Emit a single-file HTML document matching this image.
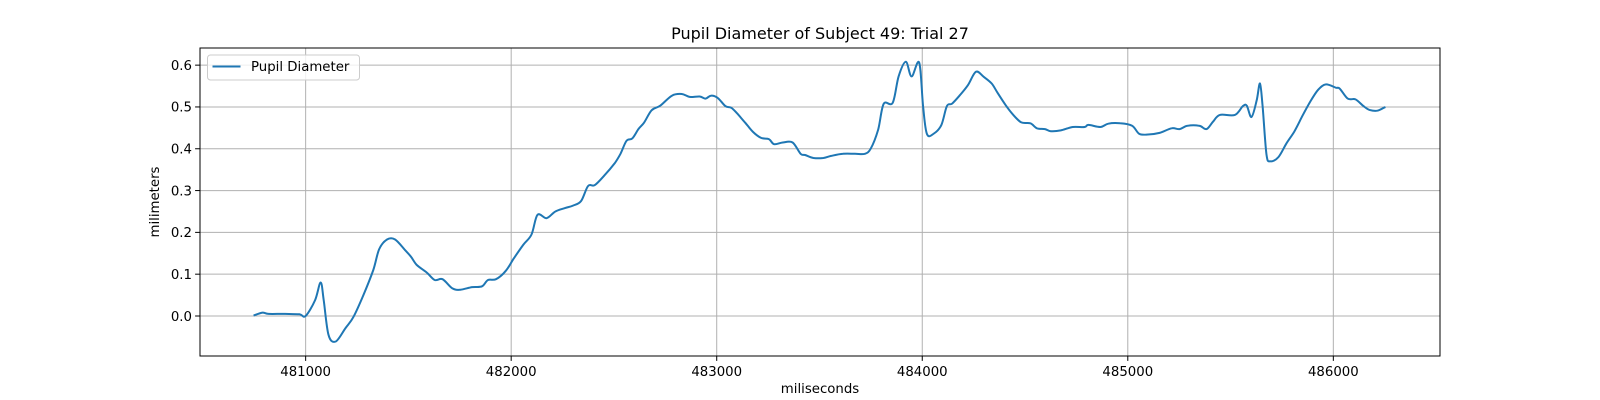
<!DOCTYPE html>
<html><head><meta charset="utf-8"><style>
html,body{margin:0;padding:0;background:#fff;}
svg{display:block;font-family:"DejaVu Sans","Liberation Sans",sans-serif;}
</style></head><body>
<svg id="chart" width="1600" height="400" viewBox="0 0 1600 400">
<rect x="0" y="0" width="1600" height="400" fill="#fff"/>
<g id="grid"></g>
<g id="ticks"></g>
<path id="line" fill="none" stroke="#1f77b4" stroke-width="2" stroke-linejoin="round" stroke-linecap="square"/>
<rect x="200" y="48" width="1240" height="308" fill="none" stroke="#000" stroke-width="1"/>
<text x="820" y="39" text-anchor="middle" font-size="16" fill="#000">Pupil Diameter of Subject 49: Trial 27</text>
<text x="820" y="393" text-anchor="middle" font-size="13.3" fill="#000">miliseconds</text>
<text x="0" y="0" transform="translate(159,202) rotate(-90)" text-anchor="middle" font-size="13.3" fill="#000">milimeters</text>
<g>
<rect x="207.5" y="55" width="152" height="25" rx="3" fill="#fff" fill-opacity="0.8" stroke="#ccc"/>
<line x1="212.5" y1="66.5" x2="240.5" y2="66.5" stroke="#1f77b4" stroke-width="2"/>
<text x="251" y="71" font-size="13.3" fill="#000">Pupil Diameter</text>
</g>
</svg>
<script>
const xTicks = [481000, 482000, 483000, 484000, 485000, 486000];
const yTicks = [0.0, 0.1, 0.2, 0.3, 0.4, 0.5, 0.6];
const yTickLabels = ["0.0", "0.1", "0.2", "0.3", "0.4", "0.5", "0.6"];
const times = [480751,480790,480820,480900,480970,481000,481046,481073,481088,481111,481146,481194,481233,481281,481329,481358,481396,481435,481483,481512,481541,481589,481628,481666,481714,481753,481810,481858,481887,481926,481974,482012,482060,482099,482128,482172,482215,482262,482301,482340,482374,482407,482455,482503,482532,482561,482590,482619,482647,482683,482725,482782,482830,482868,482917,482946,482971,483004,483042,483071,483100,483139,483177,483216,483254,483279,483321,483369,483408,483430,483471,483519,483557,483615,483673,483721,483750,483785,483812,483856,483885,483920,483948,483985,484004,484023,484058,484093,484120,484145,484183,484222,484261,484299,484338,484366,484405,484443,484482,484526,484558,484597,484626,484674,484732,484790,484809,484867,484905,484963,485021,485055,485098,485155,485213,485252,485290,485348,485383,485415,485448,485521,485560,485579,485602,485627,485643,485656,485675,485694,485733,485772,485810,485849,485887,485926,485964,486012,486031,486070,486108,486147,486176,486214,486249];
const diameters = [0.002,0.008,0.005,0.005,0.004,0.0,0.038,0.080,0.038,-0.045,-0.061,-0.029,-0.002,0.05,0.11,0.16,0.183,0.183,0.158,0.142,0.122,0.104,0.086,0.088,0.066,0.063,0.069,0.071,0.086,0.088,0.108,0.137,0.171,0.195,0.242,0.234,0.25,0.258,0.264,0.275,0.311,0.313,0.337,0.365,0.388,0.419,0.425,0.447,0.463,0.492,0.503,0.527,0.531,0.524,0.525,0.52,0.527,0.522,0.502,0.498,0.484,0.462,0.440,0.426,0.423,0.411,0.415,0.415,0.388,0.385,0.378,0.378,0.383,0.388,0.388,0.388,0.401,0.445,0.507,0.51,0.573,0.608,0.573,0.606,0.501,0.435,0.437,0.457,0.502,0.508,0.528,0.552,0.584,0.572,0.556,0.534,0.505,0.481,0.463,0.461,0.449,0.447,0.442,0.444,0.452,0.452,0.457,0.452,0.46,0.461,0.455,0.436,0.434,0.438,0.449,0.447,0.455,0.455,0.447,0.465,0.481,0.481,0.502,0.503,0.476,0.516,0.556,0.502,0.386,0.370,0.380,0.413,0.441,0.478,0.512,0.541,0.554,0.546,0.544,0.52,0.518,0.502,0.493,0.491,0.499];

const L=200,R=1440,T=48,B=356;
const x0=480486,x1=486519,y0=-0.0957,y1=0.641;
function xs(v){return L+(v-x0)/(x1-x0)*(R-L);}
function ys(v){return B-(v-y0)/(y1-y0)*(B-T);}
const NS="http://www.w3.org/2000/svg";
const grid=document.getElementById('grid'), ticks=document.getElementById('ticks');
xTicks.forEach(function(t){
  const X=xs(t);
  const g=document.createElementNS(NS,'line');
  g.setAttribute('x1',X);g.setAttribute('x2',X);g.setAttribute('y1',T);g.setAttribute('y2',B);
  g.setAttribute('stroke','#b0b0b0');g.setAttribute('stroke-width','1');
  
  
  grid.appendChild(g);
  const tk=document.createElementNS(NS,'line');
  tk.setAttribute('x1',X);tk.setAttribute('x2',X);tk.setAttribute('y1',B);tk.setAttribute('y2',B+4.9);
  tk.setAttribute('stroke','#000');
  
  
  ticks.appendChild(tk);
  const tx=document.createElementNS(NS,'text');
  tx.setAttribute('x',X);tx.setAttribute('y',B+20);tx.setAttribute('text-anchor','middle');
  tx.setAttribute('font-size','13.3');tx.textContent=String(t);
  
  
  ticks.appendChild(tx);
});
yTicks.forEach(function(t,i){
  const Y=ys(t);
  const g=document.createElementNS(NS,'line');
  g.setAttribute('x1',L);g.setAttribute('x2',R);g.setAttribute('y1',Y);g.setAttribute('y2',Y);
  g.setAttribute('stroke','#b0b0b0');g.setAttribute('stroke-width','1');
  
  
  grid.appendChild(g);
  const tk=document.createElementNS(NS,'line');
  tk.setAttribute('x1',L-4.9);tk.setAttribute('x2',L);tk.setAttribute('y1',Y);tk.setAttribute('y2',Y);
  tk.setAttribute('stroke','#000');
  
  
  ticks.appendChild(tk);
  const tx=document.createElementNS(NS,'text');
  tx.setAttribute('x',L-8);tx.setAttribute('y',Y+4.8);tx.setAttribute('text-anchor','end');
  tx.setAttribute('font-size','13.3');tx.textContent=yTickLabels[i];
  
  
  ticks.appendChild(tx);
});
const P=times.map(function(t,i){return [xs(t),ys(diameters[i])];});
let d='M'+P[0][0].toFixed(1)+','+P[0][1].toFixed(1);
for(let i=0;i<P.length-1;i++){
  const p0=P[Math.max(0,i-1)],p1=P[i],p2=P[i+1],p3=P[Math.min(P.length-1,i+2)];
  const c1x=p1[0]+(p2[0]-p0[0])/6,c1y=p1[1]+(p2[1]-p0[1])/6;
  const c2x=p2[0]-(p3[0]-p1[0])/6,c2y=p2[1]-(p3[1]-p1[1])/6;
  d+='C'+c1x.toFixed(1)+','+c1y.toFixed(1)+' '+c2x.toFixed(1)+','+c2y.toFixed(1)+' '+p2[0].toFixed(1)+','+p2[1].toFixed(1);
}
document.getElementById('line').setAttribute('d',d);
</script>
</body></html>
